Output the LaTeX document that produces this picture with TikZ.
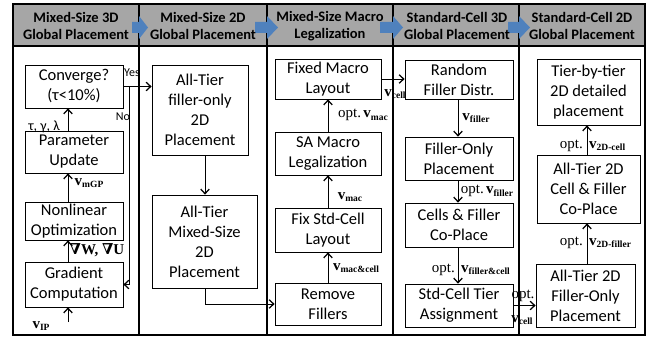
\documentclass[tikz,border=0pt]{standalone}
\usepackage{fontspec}
\setmainfont{Carlito}
\newfontfamily\tnr{Liberation Serif}
\newfontfamily\djs{DejaVu Serif}
\usetikzlibrary{arrows.meta}
\definecolor{hdrgray}{RGB}{166,166,166}
\definecolor{blockblue}{RGB}{79,129,189}
\newcommand{\bv}[1]{{\tnr\bfseries\fontsize{15}{15}\selectfont v\raisebox{-0.35ex}{\fontsize{9.5}{9.5}\selectfont #1}}}
\newcommand{\optx}{{\tnr\fontsize{15}{15}\selectfont opt.}}
\tikzset{
  box/.style={draw, line width=0.8pt, align=center, inner sep=1pt, font=\fontsize{16.5}{20}\selectfont},
  hdrtxt/.style={align=center, inner sep=0pt, font=\bfseries\fontsize{14.5}{17}\selectfont},
  lbl/.style={inner sep=0pt, font=\fontsize{12}{14}\selectfont},
  mlbl/.style={inner sep=0pt},
  arr/.style={line width=0.8pt, -{Straight Barb[length=4.5pt,width=8.5pt,line width=1.3pt]}},
  frame/.style={line width=1.3pt},
  blk/.style={fill=blockblue}
}
\begin{document}
\begin{tikzpicture}[x=1pt,y=-1pt]
\useasboundingbox (0,0) rectangle (659,337);
% header band and frame
\fill[hdrgray] (13,4) rectangle (645,46);
\draw[frame] (13,4) rectangle (645,335);
\draw[frame] (13,46) -- (645,46);
\foreach \xx in {139,267,393,519} \draw[frame] (\xx,4) -- (\xx,335);
% block arrows
\fill[blk] (132,22) -- (139,22) -- (139,16) -- (148,27.5) -- (139,39) -- (139,33) -- (132,33) -- cycle;
\fill[blk] (255,22) -- (267,22) -- (267,16) -- (278,27.5) -- (267,39) -- (267,33) -- (255,33) -- cycle;
\fill[blk] (380,22) -- (393,22) -- (393,16) -- (403,27.5) -- (393,39) -- (393,33) -- (380,33) -- cycle;
\fill[blk] (508,22) -- (519,22) -- (519,16) -- (530,27.5) -- (519,39) -- (519,33) -- (508,33) -- cycle;
% headers
\node[hdrtxt] (h1) at (76,26) {Mixed-Size 3D\\Global Placement};
\node[hdrtxt] (h2) at (203,26) {Mixed-Size 2D\\Global Placement};
\node[hdrtxt] (h3) at (330,26) {Mixed-Size Macro\\Legalization};
\node[hdrtxt] (h4) at (457,26) {Standard-Cell 3D\\Global Placement};
\node[hdrtxt] (h5) at (582,26) {Standard-Cell 2D\\Global Placement};
% column 1
\node[box, minimum width=98, minimum height=43] (conv) at (74,86.5) {Converge?\\(τ<10\%)};
\node[box, minimum width=98, minimum height=42] (param) at (74,152) {Parameter\\Update};
\node[box, minimum width=98, minimum height=38] (nlo) at (74,221) {Nonlinear\\Optimization};
\node[box, minimum width=98, minimum height=45] (grad) at (74,284.5) {Gradient\\Computation};
\coordinate (ax1) at (68,0);
\coordinate (vin) at (68,322);
\coordinate (xno) at (129,0);
\draw[arr] (param.north -| ax1) -- (conv.south -| ax1);
\draw[arr] (nlo.north -| ax1) -- (param.south -| ax1);
\draw[arr] (grad.north -| ax1) -- (nlo.south -| ax1);
\draw[arr] (vin) -- (grad.south -| ax1);
\node[lbl, font=\fontsize{14}{14}\selectfont] (tgl) at (44,127) {τ, γ, λ};
\node[mlbl] (vmgp) at (89,183) {\bv{mGP}};
\node[mlbl, font=\tnr\bfseries\fontsize{15}{15}\selectfont] (grl) at (97,250) {{\djs ∇}W, {\djs ∇}U};
\node[mlbl] (vip) at (41,326) {\bv{IP}};
% column 2
\node[box, minimum width=96, minimum height=90] (f2d) at (200,110) {All-Tier\\filler-only\\2D\\Placement};
\node[box, minimum width=105, minimum height=93] (m2d) at (204.5,241.5) {All-Tier\\Mixed-Size\\2D\\Placement};
\coordinate (ax2) at (205,0);
\draw[arr] (f2d.south -| ax2) -- (m2d.north -| ax2);
% yes / no
\draw[arr] (conv.east) -- (conv.east -| f2d.west);
\draw[arr] (conv.east -| xno) |- (grad.east);
\node[lbl] (yes) at (132,73) {Yes};
\node[lbl] (no) at (123,117) {No};
% column 3
\node[box, minimum width=106, minimum height=40] (fml) at (328,79) {Fixed Macro\\Layout};
\node[box, minimum width=106, minimum height=43] (sam) at (328,153.5) {SA Macro\\Legalization};
\node[box, minimum width=106, minimum height=44] (fsc) at (328,230) {Fix Std-Cell\\Layout};
\node[box, minimum width=106, minimum height=42] (rf) at (328,304) {Remove\\Fillers};
\draw[arr] (m2d.south -| ax2) |- (rf.west);
\draw[arr] (rf) -- (fsc);
\draw[arr] (fsc) -- (sam);
\draw[arr] (sam) -- (fml);
\node[mlbl] (l31) at (363,115) {\optx\ \bv{mac}};
\node[mlbl] (l32) at (350,197) {\bv{mac}};
\node[mlbl] (l33) at (356,268) {\bv{mac\&cell}};
% column 4
\node[box, minimum width=108, minimum height=39] (rfd) at (459,79.5) {Random\\Filler Distr.};
\node[box, minimum width=108, minimum height=43] (fop) at (459,158.5) {Filler-Only\\Placement};
\node[box, minimum width=108, minimum height=44] (cfc) at (459,225) {Cells \& Filler\\Co-Place};
\node[box, minimum width=108, minimum height=43] (sta) at (459,305.5) {Std-Cell Tier\\Assignment};
\draw[arr] (fml.east) -- (fml.east -| rfd.west);
\node[mlbl] (l34) at (395,94) {\bv{cell}};
\coordinate (ax4) at (458,0);
\draw[arr] (rfd.south -| ax4) -- (fop.north -| ax4);
\draw[arr] (fop.south -| ax4) -- (cfc.north -| ax4);
\draw[arr] (cfc.south -| ax4) -- (sta.north -| ax4);
\node[mlbl] (l41) at (476,118) {\bv{filler}};
\node[mlbl] (l42) at (487,191) {\optx\ \bv{filler}};
\node[mlbl, anchor=east] (l43a) at (455,270) {\optx};
\node[mlbl, anchor=west] (l43b) at (461,270) {\bv{filler\&cell}};
% column 5
\node[box, minimum width=103, minimum height=66] (tbt) at (588.5,92) {Tier-by-tier\\2D detailed\\placement};
\node[box, minimum width=103, minimum height=68] (a2c) at (588.5,189) {All-Tier 2D\\Cell \& Filler\\Co-Place};
\node[box, minimum width=99, minimum height=63] (ftop) at (585.5,295.5) {All-Tier 2D\\Filler-Only\\Placement};
\draw[arr] (sta.east) -- (sta.east -| ftop.west);
\node[mlbl] (l44) at (523,296) {\optx};
\node[mlbl] (l45) at (522,320) {\bv{cell}};
\coordinate (ax5) at (587,0);
\draw[arr] (ftop.north -| ax5) -- (a2c.south -| ax5);
\draw[arr] (a2c.north -| ax5) -- (tbt.south -| ax5);
\node[mlbl, anchor=east] (l51a) at (583,146) {\optx};
\node[mlbl, anchor=west] (l51b) at (589,146) {\bv{2D-cell}};
\node[mlbl, anchor=east] (l52a) at (583,243) {\optx};
\node[mlbl, anchor=west] (l52b) at (589,243) {\bv{2D-filler}};
\end{tikzpicture}
\end{document}
